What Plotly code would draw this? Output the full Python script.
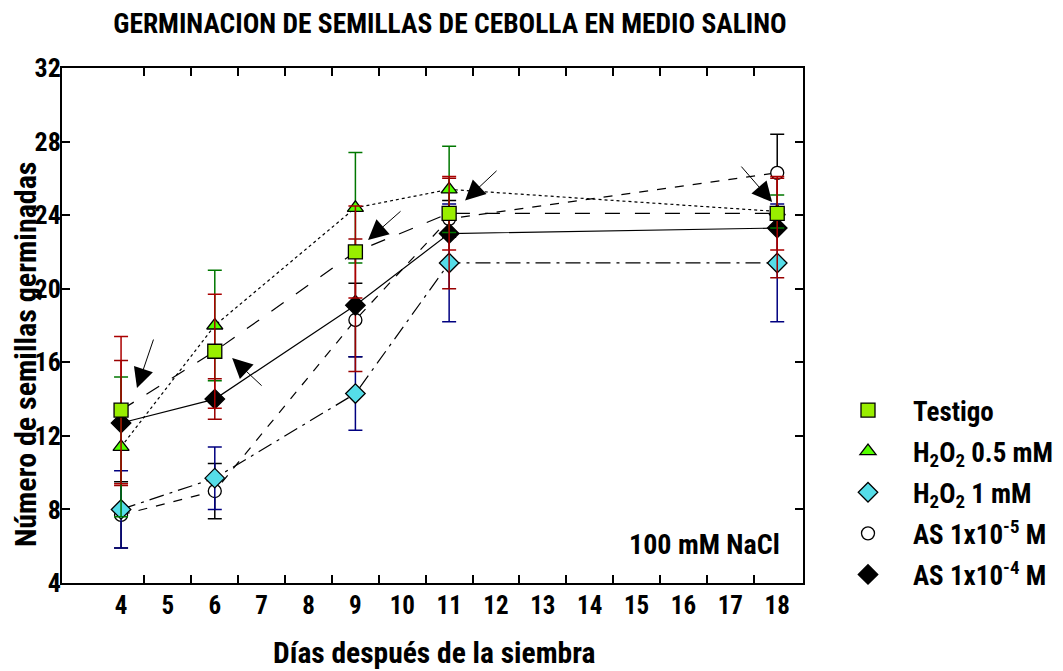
import plotly.graph_objects as go

days = [4, 6, 9, 11, 18]
tick_days = list(range(4, 19))

testigo = [13.4, 16.6, 22.0, 24.1, 24.1]
testigo_err = [4.0, 3.1, 2.5, 2.0, 2.0]
h2o2_05 = [11.4, 18.0, 24.4, 25.4, 24.2]
h2o2_05_err = [3.8, 3.0, 3.0, 2.35, 0.9]
h2o2_1 = [8.0, 9.7, 14.3, 21.4, 21.4]
h2o2_1_err = [2.1, 1.7, 2.0, 3.2, 3.2]
as_5 = [7.7, 9.0, 18.3, 23.8, 26.3]
as_5_err = [1.8, 1.5, 2.0, 1.0, 2.1]
as_4 = [12.7, 14.0, 19.1, 23.0, 23.3]
as_4_err = [3.4, 1.1, 3.6, 3.0, 2.7]

names = ["Testigo", "H<sub>2</sub>O<sub>2</sub> 0.5 mM", "H<sub>2</sub>O<sub>2</sub> 1 mM",
         "AS 1x10<sup>-5</sup> M", "AS 1x10<sup>-4</sup> M"]

FONT = "Roboto Condensed, Liberation Sans Narrow, Arial Narrow, Liberation Sans, Arial"

# the page body has an 8px margin, so the figure is sized to fit the window
W, H = 1055, 663

series = [
    # (name, y, err, symbol, fill, line dash, errcolor, size, rank)
    (names[3], as_5, as_5_err, "circle", "white", "dash", "black", 13, 4),
    (names[2], h2o2_1, h2o2_1_err, "diamond", "#55dde8", "longdashdot", "#000080", 15, 3),
    (names[4], as_4, as_4_err, "diamond", "black", "solid", "#990000", 15, 5),
    (names[1], h2o2_05, h2o2_05_err, "triangle-up", "#55ff00", "dot", "#007700", 14, 2),
    (names[0], testigo, testigo_err, "square", "#99ee00", "longdash", "#aa0000", 14, 1),
]

fig = go.Figure()
for name, y, err, sym, fill, dash, ecol, size, rank in series:
    fig.add_trace(go.Scatter(
        x=days, y=y, mode="lines", showlegend=False, hoverinfo="skip",
        line=dict(color="black", width=1.2, dash=dash),
    ))
for name, y, err, sym, fill, dash, ecol, size, rank in series:
    fig.add_trace(go.Scatter(
        x=days, y=y, name="<b>" + name + "</b>", mode="markers",
        marker=dict(symbol=sym, size=size, color=fill, line=dict(color="black", width=1.3)),
        error_y=dict(type="data", array=err, visible=True, color=ecol, thickness=1.5, width=7),
        legendrank=rank, legendgroup=str(rank),
    ))

arrows = [
    (4.34, 14.6, 17, -50),
    (6.37, 16.23, 31, 29),
    (9.27, 22.65, 34, -30),
    (11.34, 24.8, 33, -31),
    (17.89, 24.71, -32, -37),
]
for ax_, ay_, dx, dy in arrows:
    fig.add_annotation(x=ax_, y=ay_, ax=dx, ay=dy, text="", showarrow=True,
                       arrowhead=2, arrowsize=4, arrowwidth=1, arrowcolor="black")

fig.add_annotation(x=18.1, y=6.1, xanchor="right", yanchor="middle", text="<b>100 mM NaCl</b>",
                   showarrow=False, font=dict(family=FONT, size=28, color="black"))

# axis titles as annotations for exact placement
fig.add_annotation(xref="paper", yref="paper", x=(434 - 62) / 741, y=(583 - 653) / 515,
                   xanchor="center", yanchor="middle", showarrow=False,
                   text="<b>Días después de la siembra</b>", font=dict(family=FONT, size=29.5, color="black"))
fig.add_annotation(xref="paper", yref="paper", x=(26 - 62) / 741, y=(583 - 355) / 515,
                   xanchor="center", yanchor="middle", showarrow=False, textangle=-90,
                   text="<b>Número de semillas germinadas</b>", font=dict(family=FONT, size=30, color="black"))

fig.update_layout(
    width=W, height=H,
    margin=dict(l=54, r=260, t=60, b=88),
    paper_bgcolor="white", plot_bgcolor="white",
    title=dict(text="<b>GERMINACION DE SEMILLAS DE CEBOLLA EN MEDIO SALINO</b>",
               x=442 / W, xanchor="center", y=1 - 15 / H, yanchor="middle",
               font=dict(family=FONT, size=27.5, color="black")),
    font=dict(family=FONT, size=26, color="black"),
    legend=dict(xref="container", yref="container", x=815 / W, y=1 - 378 / H,
                xanchor="left", yanchor="top", traceorder="grouped",
                tracegroupgap=3, itemwidth=80, font=dict(family=FONT, size=27, color="black"),
                bgcolor="rgba(0,0,0,0)"),
    showlegend=True,
    xaxis2=dict(overlaying="x", matches="x", side="top", range=[2.74, 18.55],
                tickvals=[d + 0.5 for d in tick_days[:-1]], showticklabels=False,
                ticks="inside", ticklen=8, tickcolor="black", tickwidth=1.5,
                showline=False, showgrid=False, zeroline=False, automargin=False),
)
fig.layout.xaxis.update(range=[2.74, 18.55], tickvals=tick_days, ticktext=["<b>%d</b>" % d for d in tick_days],
                        ticks="", showline=True, linecolor="black", linewidth=2, mirror=True,
                        showgrid=False, zeroline=False, tickfont=dict(size=25), automargin=False,
                        ticklabelstandoff=-1,
                        minor=dict(tickvals=[d + 0.5 for d in tick_days[:-1]], ticks="inside", ticklen=8,
                                   tickcolor="black", tickwidth=1.5, showgrid=False))
fig.update_yaxes(range=[4, 32], tickvals=[4, 8, 12, 16, 20, 24, 28, 32],
                 ticktext=["<b>%d</b>" % v for v in [4, 8, 12, 16, 20, 24, 28, 32]],
                 ticks="inside", ticklen=8, tickcolor="black", tickwidth=1.5, tickfont=dict(size=26),
                 showline=True, linecolor="black", linewidth=2, mirror="ticks", ticklabelstandoff=-6,
                 showgrid=False, zeroline=False, automargin=False)

# invisible trace on top axis so it renders
fig.add_trace(go.Scatter(x=[days[0]], y=[testigo[0]], xaxis="x2", mode="markers",
                         marker=dict(opacity=0), showlegend=False, hoverinfo="skip"))

fig.write_html("out.html")
